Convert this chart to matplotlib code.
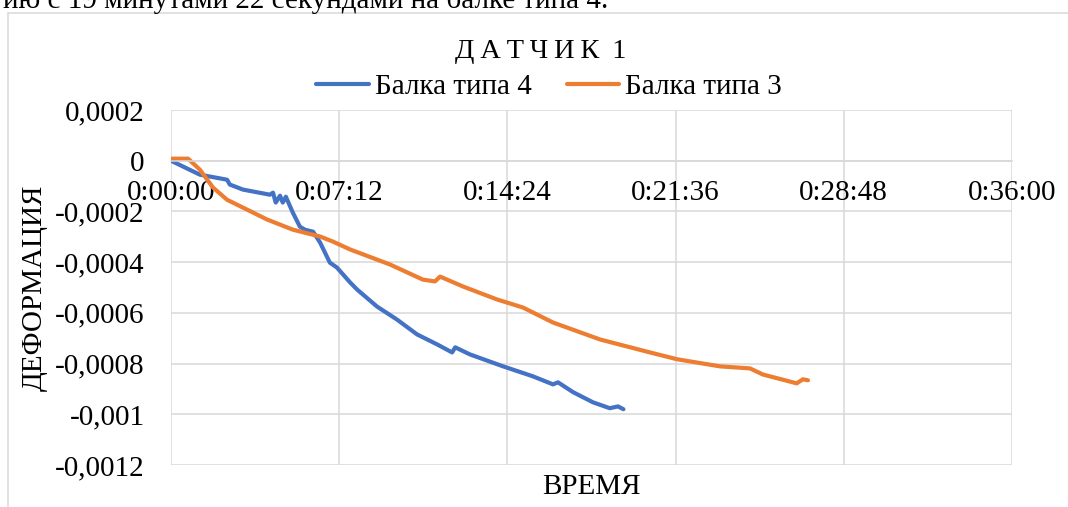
import matplotlib
matplotlib.use('Agg')
import matplotlib.pyplot as plt
from matplotlib.patches import Rectangle

plt.rcParams['font.family'] = ['Liberation Serif', 'DejaVu Serif']

# время от начала нагружения, с
t_beam4 = [0, 74, 144, 151, 185, 254, 262, 269, 280, 287, 295, 313, 331, 344,
           365, 383, 408, 426, 460, 478, 529, 580, 632, 683, 722, 730, 768,
           853, 929, 981, 994, 1033, 1084, 1127, 1148, 1162]
# деформация, x1e-6
eps_beam4 = [0, -55, -75, -94, -114, -134, -126, -165, -138, -165, -142, -205,
             -260, -272, -280, -323, -402, -421, -480, -508, -575, -626, -685,
             -724, -756, -736, -764, -811, -850, -882, -874, -913, -953, -976,
             -969, -980]

t_beam3 = [0, 44, 74, 108, 144, 185, 247, 313, 383, 416, 460, 562, 647, 678,
           691, 750, 837, 904, 981, 1102, 1230, 1300, 1410, 1487, 1520, 1607,
           1623, 1636]
eps_beam3 = [8, 8, -35, -106, -154, -185, -232, -272, -299, -319, -350, -409,
             -469, -476, -457, -496, -547, -579, -638, -705, -756, -783, -811,
             -819, -843, -878, -862, -866]

x_ticks = [0, 432, 864, 1296, 1728, 2160]
x_labels = ['0:00:00', '0:07:12', '0:14:24', '0:21:36', '0:28:48', '0:36:00']
y_ticks = [0.0002, 0, -0.0002, -0.0004, -0.0006, -0.0008, -0.001, -0.0012]
y_labels = ['0,0002', '0', '-0,0002', '-0,0004', '-0,0006', '-0,0008',
            '-0,001', '-0,0012']

W, H = 1068, 507
fig = plt.figure(figsize=(W / 100, H / 100), dpi=100)
ax = fig.add_axes([171 / W, 1 - 465 / H, (1012 - 171) / W, (465 - 110) / H])

grid_c = '#D9D9D9'
ax.plot(t_beam4, [v * 1e-6 for v in eps_beam4], color='#4472C4', lw=3,
        solid_capstyle='round', solid_joinstyle='round', label='Балка типа 4')
ax.plot(t_beam3, [v * 1e-6 for v in eps_beam3], color='#ED7D31', lw=3,
        solid_capstyle='round', solid_joinstyle='round', label='Балка типа 3')

ax.set_xlim(0, 2160)
ax.set_ylim(-0.0012, 0.0002)
ax.set_xticks(x_ticks)
ax.set_xticklabels(x_labels)
ax.set_yticks(y_ticks)
ax.set_yticklabels(y_labels)
ax.grid(True, color=grid_c, lw=1.1)
ax.set_axisbelow(True)
for s in ['top', 'right', 'left']:
    ax.spines[s].set_visible(False)
ax.spines['bottom'].set_position(('data', 0))
ax.spines['bottom'].set_color(grid_c)
ax.spines['bottom'].set_linewidth(1.1)
ax.tick_params(axis='x', length=0, pad=14, labelsize=21)
ax.tick_params(axis='y', length=0, pad=19, labelsize=21)

# заголовок с разреженными буквами
fig.text(541 / W, 1 - 52 / H, '\u2009'.join('ДАТЧИК') + ' \u20091', ha='center',
         va='center', fontsize=20.5)
fig.legend(loc='center', bbox_to_anchor=(549 / W, 1 - 87 / H), ncol=2,
           frameon=False, fontsize=21, handlelength=1.8, handletextpad=0.2,
           columnspacing=1.2, borderpad=0, borderaxespad=0)
fig.text(35 / W, 1 - 288 / H, 'ДЕФОРМАЦИЯ', rotation=90, ha='center',
         va='center', fontsize=21)
fig.text(591 / W, 1 - 487 / H, 'ВРЕМЯ', ha='center', va='center', fontsize=21)

# рамка области диаграммы и строка текста над ней
fig.add_artist(Rectangle((8 / W, -0.2), 1.2, 1.2 - 13 / H, fill=False,
                         edgecolor=grid_c, lw=1.1, transform=fig.transFigure))
fig.text(0.003, 1 - 8 / H, 'ию с 19 минутами 22 секундами на балке типа 4.',
         ha='left', va='baseline', fontsize=21)

fig.savefig('out.png', dpi=100)
